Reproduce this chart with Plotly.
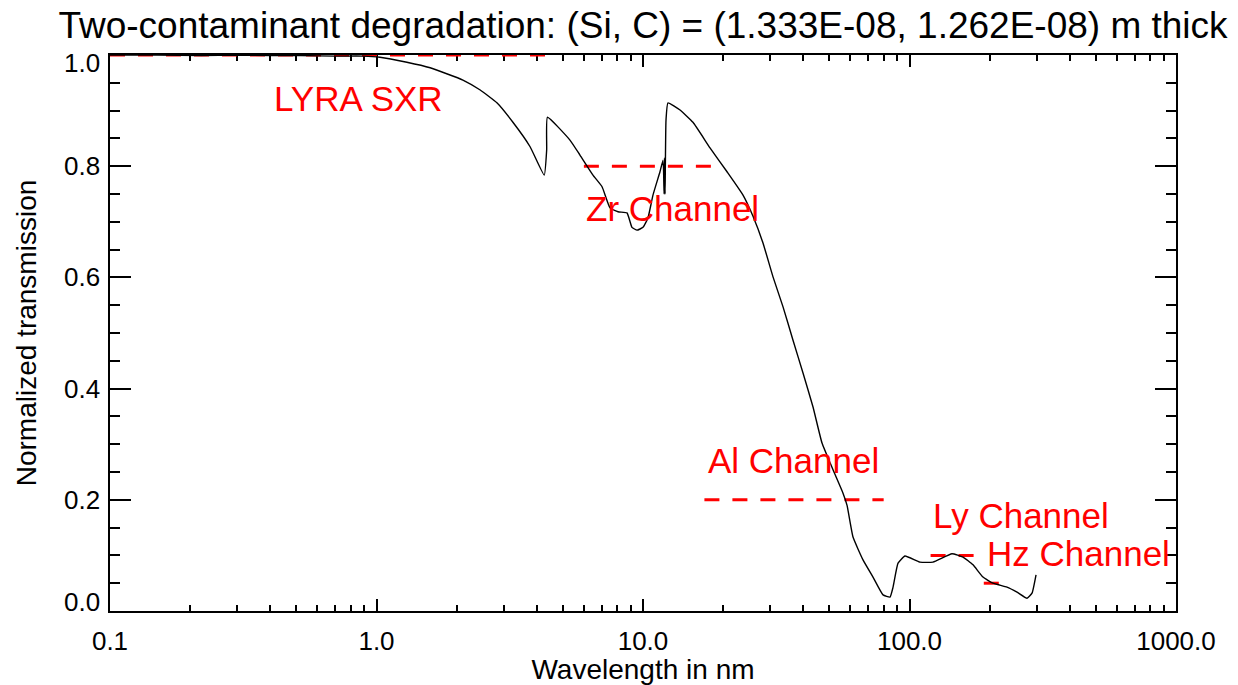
import math
import plotly.graph_objects as go

# Transmission of the contaminated filter stack versus wavelength
wavelength_nm = [0.10, 0.15, 0.22, 0.30, 0.40, 0.52, 0.70, 0.89, 1.03, 1.30,
                 1.59, 2.11, 2.45, 2.83, 3.25, 3.77, 4.26, 4.35, 4.38, 5.32,
                 5.80, 6.49, 7.02, 7.52, 8.06, 8.71, 9.09, 9.50, 10.0, 10.44,
                 10.90, 11.58, 11.89, 12.00, 12.05, 12.10, 12.20, 12.41, 13.77, 15.40,
                 17.84, 20.67, 23.73, 25.87, 28.20, 30.75, 33.53, 36.55, 39.85, 43.45,
                 46.96, 51.65, 56.30, 58.30, 61.38, 66.92, 72.95, 79.55, 84.51, 86.75,
                 90.56, 96.18, 109.5, 122.5, 144.4, 158.8, 173.1, 188.7, 205.8, 232.2,
                 253.2, 276.0, 288.2, 298.4]
transmission = [1.000, 1.000, 0.999, 1.000, 0.999, 0.999, 0.998, 0.998, 0.996, 0.987,
                0.977, 0.955, 0.937, 0.914, 0.879, 0.835, 0.784, 0.829, 0.888, 0.847,
                0.820, 0.784, 0.763, 0.725, 0.718, 0.716, 0.690, 0.685, 0.690, 0.707,
                0.748, 0.790, 0.811, 0.750, 0.815, 0.750, 0.883, 0.914, 0.901, 0.879,
                0.833, 0.790, 0.748, 0.710, 0.662, 0.601, 0.547, 0.487, 0.428, 0.367,
                0.302, 0.254, 0.212, 0.190, 0.133, 0.092, 0.061, 0.029, 0.025, 0.043,
                0.086, 0.099, 0.088, 0.088, 0.103, 0.097, 0.083, 0.061, 0.050, 0.043,
                0.034, 0.023, 0.032, 0.065]

# LYRA channel passbands (nm) and the level at which each is marked
channel_names = ["LYRA SXR", "Zr Channel", "Al Channel", "Ly Channel", "Hz Channel"]
band_lo = [0.1, 6.0, 17.0, 120.0, 190.0]
band_hi = [4.5, 20.0, 80.0, 180.0, 222.0]
band_level = [1.0, 0.8, 0.2, 0.1, 0.05]
label_x = [0.405, 6.0, 17.2, 120.0, 192.0]
label_y = [0.922, 0.724, 0.270, 0.171, 0.104]

xtick_vals = [0.1, 1.0, 10.0, 100.0, 1000.0]
xtick_text = ["0.1", "1.0", "10.0", "100.0", "1000.0"]
ytick_vals = [0.0, 0.2, 0.4, 0.6, 0.8, 1.0]
ytick_text = ["0.0", "0.2", "0.4", "0.6", "0.8", "1.0"]

FONT = "Liberation Sans, Arial, Helvetica, sans-serif"
RED = "#ff0000"

x_minor = [m * d for d in (0.1, 1.0, 10.0, 100.0) for m in range(2, 10)]

fig = go.Figure()

for lo, hi, lvl in zip(band_lo, band_hi, band_level):
    fig.add_trace(go.Scatter(
        x=[lo, hi], y=[lvl, lvl], mode="lines",
        line=dict(color=RED, width=3, dash="15px,13px"),
        hoverinfo="skip", showlegend=False))

fig.add_trace(go.Scatter(
    x=wavelength_nm, y=transmission, mode="lines",
    line=dict(color="black", width=1.4, shape="spline", smoothing=0.4),
    showlegend=False))

# annotation x positions on a log axis are given in log10 units
for name, lx, ly in zip(channel_names, label_x, label_y):
    fig.add_annotation(x=math.log10(lx), y=ly, xref="x", yref="y", text=name,
                       showarrow=False, xanchor="left", yanchor="middle",
                       font=dict(family=FONT, size=35, color=RED))

# y tick labels: the end labels sit just inside the axis box
for i, (v, t) in enumerate(zip(ytick_vals, ytick_text)):
    shift = 9 if i == 0 else (-8 if i == len(ytick_vals) - 1 else 0)
    fig.add_annotation(x=0, y=v, xref="paper", yref="y", text=t,
                       showarrow=False, xanchor="right", yanchor="middle",
                       xshift=-8, yshift=shift,
                       font=dict(family=FONT, size=26, color="black"))

fig.update_xaxes(
    type="log", range=[-1, 3],
    tickmode="array", tickvals=xtick_vals, ticktext=xtick_text,
    ticks="inside", ticklen=12, tickwidth=2, tickcolor="black",
    showline=True, linecolor="black", linewidth=2, mirror="allticks",
    showgrid=False, zeroline=False, layer="below traces",
    minor=dict(tickmode="array", tickvals=x_minor, ticks="inside",
               ticklen=6, tickwidth=2, tickcolor="black", showgrid=False),
    tickfont=dict(family=FONT, size=26, color="black"),
    ticklabelstandoff=6,
    title=dict(text="Wavelength in nm", standoff=8,
               font=dict(family=FONT, size=28, color="black")),
    automargin=False,
)
fig.update_yaxes(
    range=[0, 1], tickmode="array", tickvals=ytick_vals,
    ticks="inside", ticklen=21, tickwidth=2, tickcolor="black",
    showline=True, linecolor="black", linewidth=2, mirror="allticks",
    showgrid=False, zeroline=False, showticklabels=False, layer="below traces",
    minor=dict(dtick=0.05, ticks="inside", ticklen=10, tickwidth=2,
               tickcolor="black", showgrid=False),
    title=dict(text="Normalized transmission", standoff=63,
               font=dict(family=FONT, size=28, color="black")),
    automargin=False,
)

fig.update_layout(
    width=1238, height=685,
    margin=dict(l=110, r=62, t=55, b=74, pad=0),
    paper_bgcolor="white", plot_bgcolor="white",
    title=dict(text="Two-contaminant degradation: (Si, C) = (1.333E-08, 1.262E-08) m thick",
               x=0.5, xref="paper", xanchor="center",
               y=1 - 25 / 685, yref="container", yanchor="middle",
               font=dict(family=FONT, size=37, color="black")),
    showlegend=False,
)

fig.write_html("out.html", config={"displayModeBar": False})
